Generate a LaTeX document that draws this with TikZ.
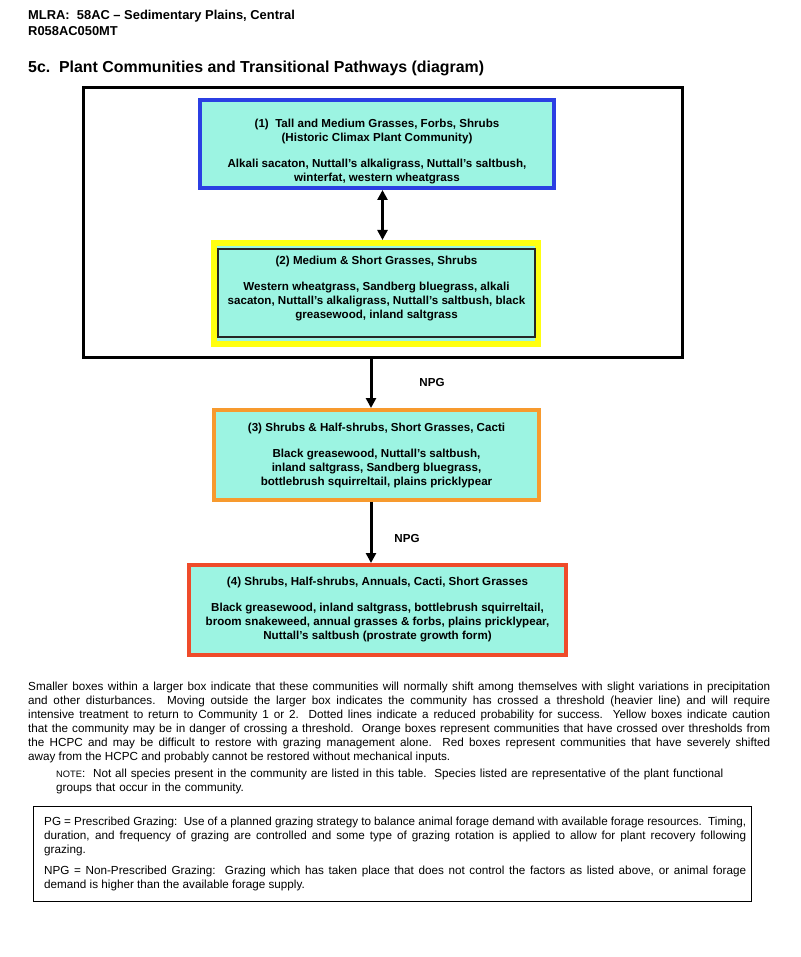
\documentclass[tikz,border=0pt]{standalone}
\usepackage{fontspec}
\setmainfont{Liberation Sans}
\usetikzlibrary{arrows.meta}
\definecolor{aquafill}{HTML}{9CF4E2}
\definecolor{boxblue}{HTML}{2B3FE3}
\definecolor{boxyellow}{HTML}{FFFF10}
\definecolor{boxorange}{HTML}{F79A2E}
\definecolor{boxred}{HTML}{EF4B2A}
\begin{document}
\begin{tikzpicture}[x=1pt,y=-1pt,
  community/.style={draw, fill=aquafill, rectangle, inner sep=0pt},
  boxtext/.style={inner sep=0pt, align=center, font=\bfseries\fontsize{11.6}{14}\selectfont},
  flow/.style={line width=3pt, -{Triangle[length=10pt,width=10pt]}},
  header/.style={anchor=base west, inner sep=0pt, font=\bfseries\fontsize{12.9}{14}\selectfont},
  bodytext/.style={anchor=north west, inner sep=0pt, align=justify,
    font=\fontsize{11.7}{13.9}\selectfont}]
\useasboundingbox (0,0) rectangle (800,957);

% header
\node[header] (h1) at (28,19.5) {MLRA:\ \ 58AC -- Sedimentary Plains, Central};
\node[header] (h2) at (28,36) {R058AC050MT};
\node[header, font=\bfseries\fontsize{15.9}{18}\selectfont] (title) at (28,72.5)
  {5c.\ \ Plant Communities and Transitional Pathways (diagram)};

% big threshold box
\node[draw, line width=3pt, rectangle, minimum width=599pt, minimum height=270pt, inner sep=0pt]
  (big) at (383,222.5) {};

% communities
\node[community, line width=4pt, draw=boxblue, minimum width=354pt, minimum height=88pt]
  (c1) at (377,144) {};
\node[boxtext] (t1) at ([yshift=-8pt]c1.center)
  {(1)\ \ Tall and Medium Grasses, Forbs, Shrubs\\(Historic Climax Plant Community)\\[12pt]
   Alkali sacaton, Nuttall’s alkaligrass, Nuttall’s saltbush,\\winterfat, western wheatgrass};

\node[community, draw=boxyellow, line width=6pt, minimum width=324pt, minimum height=101pt]
  (c2o) at (376,293.5) {};
\node[community, line width=2pt, draw=black!85, minimum width=317pt, minimum height=88pt]
  (c2) at (376.5,293) {};
\node[boxtext] (t2) at ([yshift=4pt]c2.center)
  {(2) Medium \& Short Grasses, Shrubs\\[12pt]
   Western wheatgrass, Sandberg bluegrass, alkali\\sacaton, Nuttall’s alkaligrass, Nuttall’s saltbush, black\\greasewood, inland saltgrass};

\node[community, line width=4pt, draw=boxorange, minimum width=325pt, minimum height=90pt]
  (c3) at (376.5,455) {};
\node[boxtext] (t3) at (c3.center)
  {(3) Shrubs \& Half-shrubs, Short Grasses, Cacti\\[12pt]
   Black greasewood, Nuttall’s saltbush,\\inland saltgrass, Sandberg bluegrass,\\bottlebrush squirreltail, plains pricklypear};

\node[community, line width=4pt, draw=boxred, minimum width=377pt, minimum height=90pt]
  (c4) at (377.5,610) {};
\node[boxtext] (t4) at (c4.center)
  {(4) Shrubs, Half-shrubs, Annuals, Cacti, Short Grasses\\[12pt]
   Black greasewood, inland saltgrass, bottlebrush squirreltail,\\broom snakeweed, annual grasses \& forbs, plains pricklypear,\\Nuttall’s saltbush (prostrate growth form)};

% connectors
\coordinate (ax1) at (382.5,0);
\coordinate (ax2) at (371,0);
\draw[line width=3pt, {Triangle[length=10pt,width=10pt]}-{Triangle[length=10pt,width=10pt]}]
  (c1.south -| ax1) -- (c2o.north -| ax1);
\draw[flow] (big.south -| ax2) -- (c3.north -| ax2);
\draw[flow] (c3.south -| ax2) -- (c4.north -| ax2);
\node[font=\bfseries\fontsize{11.6}{13}\selectfont, inner sep=0pt] (npg1) at (432,383) {NPG};
\node[font=\bfseries\fontsize{11.6}{13}\selectfont, inner sep=0pt] (npg2) at (407,539) {NPG};

% explanatory text
\node[bodytext, text width=742pt] (para) at (28,682)
  {Smaller boxes within a larger box indicate that these communities will normally shift among themselves with slight variations in precipitation\linebreak
   and other disturbances.\ \ Moving outside the larger box indicates the community has crossed a threshold (heavier line) and will require\linebreak
   intensive treatment to return to Community 1 or 2.\ \ Dotted lines indicate a reduced probability for success.\ \ Yellow boxes indicate caution\linebreak
   that the community may be in danger of crossing a threshold.\ \ Orange boxes represent communities that have crossed over thresholds from\linebreak
   the HCPC and may be difficult to restore with grazing management alone.\ \ Red boxes represent communities that have severely shifted\linebreak
   away from the HCPC and probably cannot be restored without mechanical inputs.};

\node[bodytext, align=left, text width=710pt, font=\fontsize{11.7}{14}\selectfont] (note) at (56,769)
  {{\fontsize{9.3}{10}\selectfont NOTE}:\ \ Not all species present in the community are listed in this table.\ \ Species listed are representative of the plant functional\\
   groups that occur in the community.};

% grazing definitions
\node[draw, line width=1.3pt, rectangle, inner sep=0pt, minimum width=718pt, minimum height=95pt]
  (defbox) at (392.5,854) {};
\node[bodytext, text width=702pt, font=\fontsize{11.7}{14}\selectfont] (pg) at (44,816.5)
  {PG = Prescribed Grazing:\ \ Use of a planned grazing strategy to balance animal forage demand with available forage resources.\ \ Timing,\linebreak
   duration, and frequency of grazing are controlled and some type of grazing rotation is applied to allow for plant recovery following\linebreak
   grazing.};
\node[bodytext, text width=702pt, font=\fontsize{11.7}{14}\selectfont] (npgdef) at (44,865.5)
  {NPG = Non-Prescribed Grazing:\ \ Grazing which has taken place that does not control the factors as listed above, or animal forage\linebreak
   demand is higher than the available forage supply.};
\end{tikzpicture}
\end{document}
